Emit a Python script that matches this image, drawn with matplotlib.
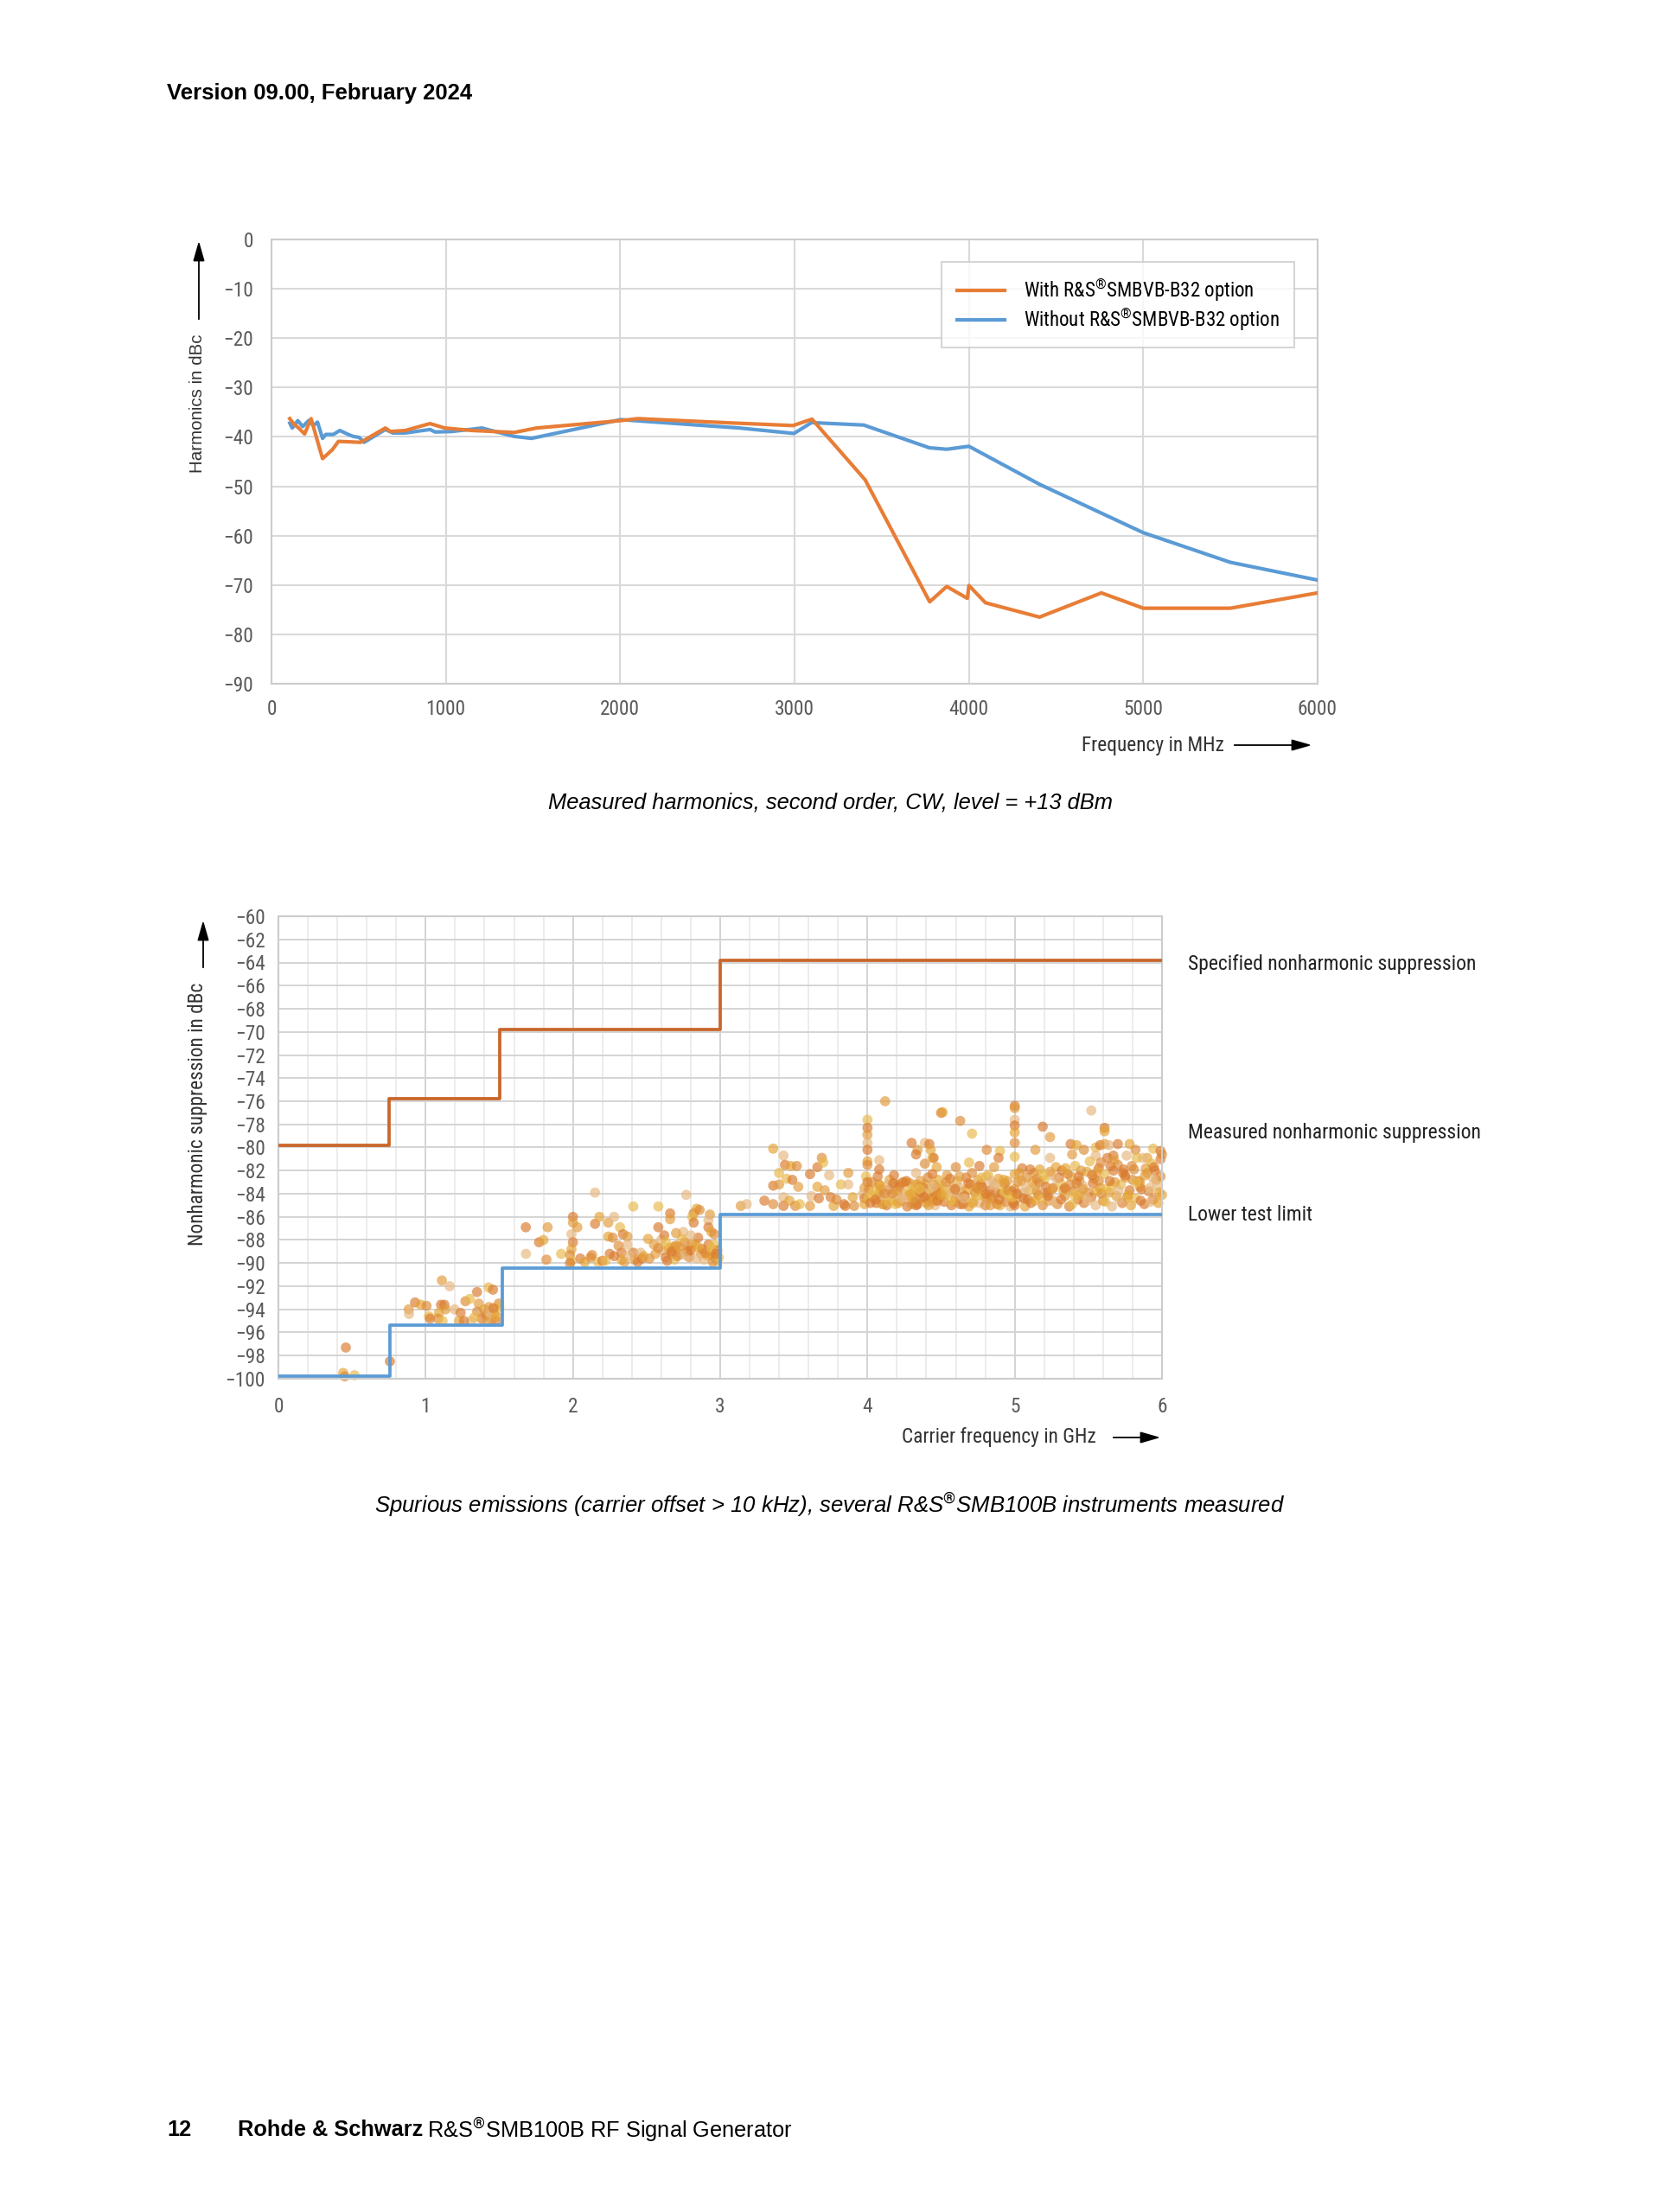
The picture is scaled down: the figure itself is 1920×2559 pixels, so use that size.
"""
Datasheet page: measured 2nd harmonics and nonharmonic (spurious) suppression.
"""
import matplotlib
matplotlib.use("Agg")
import matplotlib.pyplot as plt
from matplotlib import font_manager
from matplotlib.ticker import MultipleLocator

# ---- harmonics chart (top) ----
with_b32_mhz = [105, 128, 156, 190, 227, 270, 293, 349, 384, 511, 653, 682, 767,
                909, 994, 1150, 1392, 1520, 2003, 2102, 2656, 2991, 3100, 3405,
                3775, 3873, 3991, 4000, 4095, 4405, 4760, 5000, 5499, 6000]
with_b32_dbc = [-36.3, -37.4, -38.2, -39.4, -36.3, -41.6, -44.4, -42.6, -40.9,
                -41.1, -38.2, -38.9, -38.7, -37.3, -38.2, -38.7, -39.1, -38.2,
                -36.7, -36.3, -37.2, -37.7, -36.4, -48.7, -73.4, -70.3, -72.7,
                -70.1, -73.6, -76.5, -71.6, -74.7, -74.7, -71.6]

without_b32_mhz = [105, 119, 151, 179, 213, 241, 264, 293, 312, 355, 392, 440, 469,
                   503, 531, 653, 696, 767, 909, 938, 1037, 1207, 1392, 1491, 2003,
                   2685, 2997, 3097, 3397, 3773, 3873, 4000, 4405, 5000, 5499, 6000]
without_b32_dbc = [-37.2, -38.2, -36.7, -37.9, -36.7, -37.7, -37.0, -40.3, -39.5,
                   -39.5, -38.7, -39.5, -39.9, -40.1, -41.1, -38.5, -39.2, -39.2,
                   -38.5, -39.0, -38.9, -38.2, -39.9, -40.3, -36.5, -38.2, -39.3,
                   -37.1, -37.6, -42.2, -42.5, -41.9, -49.6, -59.4, -65.4, -69.0]

harm_legend = ["With R&S$^{®}$SMBVB-B32 option", "Without R&S$^{®}$SMBVB-B32 option"]

# ---- nonharmonic suppression chart (bottom) ----
spec_edges_ghz = [0, 0.75, 1.5, 3.0, 6.0]
spec_levels_dbc = [-79.8, -75.8, -69.8, -63.8]
test_edges_ghz = [0, 0.76, 1.52, 3.0, 6.0]
test_levels_dbc = [-99.8, -95.4, -90.4, -85.8]

# measured spurs
spur_ghz_b1 = [0.458, 0.44, 0.45, 0.517, 0.757]
spur_dbc_b1 = [-97.3, -99.5, -99.8, -99.7, -98.5]

spur_ghz_b2 = [0.885, 0.887, 0.928, 0.967, 1.006, 1.022, 1.03, 1.11, 1.163, 1.104,
               1.09, 1.085, 1.115, 1.127, 1.135, 1.196, 1.237, 1.227, 1.27, 1.30,
               1.349, 1.36, 1.31, 1.26, 1.398, 1.41, 1.427, 1.457, 1.43, 1.447,
               1.476, 1.467, 1.496, 1.50, 1.38, 1.42, 1.44, 1.46, 1.48, 1.35, 1.33]
spur_dbc_b2 = [-94.0, -94.4, -93.4, -93.6, -93.7, -94.6, -94.8, -91.5, -92.0, -93.6,
               -94.3, -94.8, -95.0, -93.6, -94.0, -94.0, -94.3, -95.0, -93.3, -93.1,
               -92.5, -93.5, -95.0, -95.0, -94.0, -94.5, -92.1, -92.3, -93.8, -94.9,
               -95.0, -94.4, -93.5, -93.8, -94.8, -95.0, -94.3, -93.9, -94.6, -94.2,
               -94.7]

spur_ghz_b3 = [1.68, 1.828, 1.681, 1.77, 1.80, 1.82, 1.92,
               2.0, 2.0, 1.99, 2.0, 1.99, 1.98, 1.99, 1.98,
               2.03, 2.15, 2.15, 2.18, 2.13, 2.17, 2.20, 2.24, 2.28, 2.25, 2.24, 2.27,
               2.32, 2.34, 2.37, 2.37, 2.33, 2.33, 2.31, 2.41, 2.41, 2.42, 2.46, 2.47,
               2.51, 2.52, 2.58, 2.58,
               2.55, 2.61, 2.63, 2.65, 2.67, 2.69, 2.70, 2.73, 2.75, 2.76, 2.77, 2.79,
               2.83, 2.85, 2.87, 2.89, 2.92, 2.93, 2.96, 2.98,
               2.66, 2.66, 2.77, 2.82, 2.84, 2.86, 2.81, 2.82, 2.93, 2.92, 2.92, 2.94,
               2.96, 2.96, 2.98,
               2.56, 2.60, 2.64, 2.68, 2.71, 2.74, 2.78, 2.81, 2.84, 2.88, 2.91, 2.95,
               2.99, 2.62, 2.70, 2.80,
               2.05, 2.08, 2.12, 2.22, 2.28, 2.35, 2.38, 2.44, 2.48,
               2.58, 2.63, 2.67, 2.72, 2.76, 2.80, 2.85, 2.90, 2.94, 2.97]
spur_dbc_b3 = [-86.9, -86.9, -89.2, -88.2, -88.0, -89.7, -89.2,
               -86.0, -86.5, -87.5, -88.2, -88.8, -89.3, -89.8, -90.0,
               -86.9, -83.9, -86.6, -86.0, -89.3, -89.9, -89.8, -86.5, -86.0, -89.2,
               -87.7, -87.8,
               -86.9, -87.5, -87.7, -88.4, -89.1, -89.7, -88.5, -85.1, -89.1, -89.7,
               -89.1, -89.6,
               -87.9, -89.6, -85.1, -86.9,
               -88.4, -88.9, -89.5, -88.7, -89.2, -89.7, -88.5, -89.2, -87.3, -88.2,
               -88.9, -89.5, -88.4, -87.8, -89.2, -89.7, -88.4, -89.2, -89.5, -89.8,
               -85.7, -86.2, -84.1, -85.7, -85.3, -85.4, -86.0, -86.5, -85.8, -86.3,
               -86.9, -87.3, -87.5, -88.4, -88.9,
               -89.2, -88.0, -89.8, -88.6, -89.4, -87.9, -89.0, -88.3, -89.6, -88.8,
               -89.3, -89.9, -89.5, -87.6, -87.4, -87.6,
               -89.6, -89.9, -89.5, -89.8, -89.4, -89.9, -89.3, -89.9, -89.4,
               -88.7, -88.2, -89.0, -88.6, -89.3, -88.9, -88.6, -89.1, -88.7, -89.2]

spur_ghz_b4 = [3.14, 3.18, 3.30, 3.36, 3.36, 3.40, 3.36, 3.40, 3.43, 3.44, 3.48,
               3.52, 3.45, 3.49, 3.53, 3.43, 3.43, 3.47, 3.51, 3.54, 3.61, 3.61,
               3.62, 3.66, 3.66, 3.69, 3.70, 3.67, 3.71, 3.74, 3.75, 3.77, 3.79,
               3.82, 3.84, 3.87, 3.87, 3.85, 3.90, 3.91,
               4.0, 4.0, 4.0, 4.0, 4.0, 4.0, 4.0, 3.99, 4.0, 3.98, 3.97, 3.98, 3.98,
               4.01, 4.01, 4.02]
spur_dbc_b4 = [-85.05, -84.9, -84.6, -80.1, -84.9, -82.2, -83.3, -83.2, -80.7, -81.5,
               -81.6, -81.6, -82.7, -82.8, -83.4, -84.3, -85.05, -84.6, -85.05, -84.9,
               -82.3, -85.05, -84.2, -81.7, -83.4, -80.9, -81.3, -84.4, -83.7, -82.4,
               -84.3, -85.05, -84.5, -83.2, -84.9, -82.2, -83.2, -85.05, -84.3, -85.05,
               -77.6, -78.3, -78.9, -79.6, -80.2, -81.2, -81.5, -82.5, -83.0, -83.5,
               -84.0, -84.4, -84.9, -83.6, -84.3, -84.8]

spur_ghz_b5 = [4.12, 4.08, 4.08, 4.08, 4.08, 4.11, 4.15, 4.16, 4.20, 4.21, 4.25,
               4.28, 4.30, 4.30, 4.34, 4.39, 4.42, 4.43, 4.39, 4.44, 4.33, 4.33,
               4.33, 4.35, 4.39, 4.41, 4.44, 4.47, 4.49, 4.33, 4.50, 4.51, 4.63,
               4.71, 5.00, 5.00, 5.00, 5.00, 5.00, 5.00, 5.00, 5.19, 5.24, 5.52,
               5.61, 5.61, 4.81, 4.90, 4.89, 5.14, 5.24, 4.45, 4.47, 4.60, 4.69,
               4.76, 4.86, 4.81,
               5.38, 5.42, 5.47, 5.55, 5.58, 5.61, 5.64, 5.70, 5.78, 5.82, 5.94,
               5.99, 5.39, 5.55, 5.67, 5.90]
spur_dbc_b5 = [-76.0, -81.1, -81.9, -83.2, -84.0, -84.9, -83.6, -84.6, -84.0, -83.2,
               -83.0, -84.2, -84.9, -79.6, -80.2, -79.6, -79.7, -80.2, -81.4, -80.9,
               -80.6, -83.2, -83.8, -84.5, -83.2, -84.0, -84.7, -83.5, -84.3, -82.2,
               -77.0, -76.95, -77.7, -78.8, -76.4, -76.6, -77.6, -78.1, -78.7, -79.6,
               -80.8, -78.2, -79.1, -76.8, -78.3, -78.6, -80.2, -80.3, -80.9, -80.2,
               -80.9, -80.9, -81.7, -81.7, -81.3, -81.6, -81.7, -82.5,
               -79.7, -79.8, -80.2, -80.0, -79.8, -79.7, -79.8, -79.7, -79.7, -80.2,
               -80.1, -80.3, -80.6, -80.7, -80.7, -80.9]

# dense band 4 GHz .. 6 GHz
spur_ghz_b6 = [4.03, 4.05, 4.06, 4.09, 4.12, 4.13, 4.15, 4.17, 4.19, 4.22, 4.23,
               4.26, 4.27, 4.29, 4.31, 4.32, 4.34, 4.36, 4.37, 4.38, 4.40, 4.41,
               4.42, 4.43, 4.45, 4.46, 4.47, 4.48, 4.49,
               4.51, 4.52, 4.54, 4.55, 4.57, 4.58, 4.60, 4.61, 4.63, 4.64, 4.66,
               4.67, 4.69, 4.70, 4.72, 4.73, 4.75, 4.76, 4.78, 4.79, 4.80, 4.82,
               4.83, 4.85, 4.86, 4.88, 4.89, 4.91, 4.92, 4.94, 4.95, 4.97, 4.98,
               5.00, 5.00, 5.01, 5.00,
               5.02, 5.04, 5.05, 5.07, 5.08, 5.10, 5.11, 5.13, 5.14, 5.16, 5.17,
               5.19, 5.20, 5.22, 5.23, 5.25, 5.26, 5.28, 5.29, 5.31, 5.32, 5.34,
               5.35, 5.37, 5.38, 5.40, 5.41, 5.43, 5.44, 5.46, 5.47, 5.49, 5.50,
               5.51, 5.52, 5.54, 5.55, 5.57, 5.58, 5.60, 5.61, 5.63, 5.64, 5.66,
               5.67, 5.69, 5.70, 5.72, 5.73, 5.75, 5.76, 5.78, 5.79, 5.81, 5.82,
               5.84, 5.85, 5.87, 5.88, 5.90, 5.91, 5.93, 5.94, 5.96, 5.97, 5.99,
               6.00, 5.99,
               4.04, 4.07, 4.10, 4.14, 4.18, 4.21, 4.24, 4.28, 4.33, 4.35, 4.39,
               4.44, 4.46, 4.48,
               4.53, 4.56, 4.59, 4.62, 4.65, 4.68, 4.71, 4.74, 4.77, 4.81, 4.84,
               4.87, 4.90, 4.93, 4.96, 4.99,
               5.03, 5.06, 5.09, 5.12, 5.15, 5.18, 5.21, 5.24, 5.27, 5.30, 5.33,
               5.36, 5.39, 5.42, 5.45, 5.48,
               5.53, 5.56, 5.59, 5.62, 5.65, 5.68, 5.71, 5.74, 5.77, 5.80, 5.83,
               5.86, 5.89, 5.92, 5.95, 5.98, 6.00,
               4.31, 4.36, 4.41, 4.57, 4.66, 4.75, 4.84, 4.93, 5.06, 5.15, 5.25,
               5.34, 5.44, 5.57, 5.66, 5.75, 5.85, 5.94,
               4.055, 4.085, 4.115, 4.145, 4.175, 4.205, 4.235, 4.265, 4.295, 4.325,
               4.355, 4.385, 4.415, 4.445, 4.475,
               4.505, 4.535, 4.565, 4.595, 4.625, 4.655, 4.685, 4.715, 4.745, 4.775,
               4.805, 4.835, 4.865, 4.895, 4.925, 4.955, 4.985,
               5.015, 5.045, 5.075, 5.105, 5.135, 5.165, 5.195, 5.225, 5.255, 5.285,
               5.315, 5.345, 5.375, 5.405, 5.435, 5.465, 5.495,
               5.525, 5.555, 5.585, 5.615, 5.645, 5.675, 5.705, 5.735, 5.765, 5.795,
               5.825, 5.855, 5.885, 5.915, 5.945, 5.975]
spur_dbc_b6 = [-83.0, -84.2, -84.8, -83.6, -84.4, -85.0, -82.8, -84.0, -84.9, -83.4,
               -84.6, -84.1, -85.1, -83.1, -84.5, -83.7, -84.9, -82.9, -84.2, -83.5,
               -84.8, -82.6, -83.9, -84.4, -83.2, -85.0, -84.1, -82.8, -83.6,
               -83.3, -84.7, -82.4, -84.0, -85.0, -83.5, -84.4, -82.9, -84.9, -83.8,
               -84.3, -82.6, -85.1, -83.2, -84.6, -83.9, -82.8, -84.8, -83.4, -84.2,
               -85.0, -82.4, -83.7, -84.5, -83.1, -84.9, -82.7, -84.0, -83.5, -84.7,
               -82.9, -85.1, -83.8, -82.3, -83.6, -84.5, -85.0,
               -83.0, -84.3, -81.8, -85.1, -82.6, -83.7, -84.8, -82.2, -83.3, -84.1,
               -81.9, -85.0, -82.8, -83.9, -84.6, -82.4, -83.5, -81.7, -84.9, -83.1,
               -82.0, -84.2, -83.6, -85.1, -82.5, -83.8, -81.6, -84.5, -82.9, -83.3,
               -84.8, -82.1, -83.9,
               -81.2, -84.3, -82.7, -85.0, -81.8, -83.5, -84.6, -82.3, -80.9, -83.9,
               -85.1, -82.0, -84.2, -81.5, -83.2, -84.8, -82.6, -80.7, -83.7, -85.0,
               -81.9, -84.4, -82.9, -83.4, -80.9, -84.9, -82.2, -83.8, -81.4, -84.5,
               -82.8, -83.3, -81.0, -84.1, -82.5,
               -83.8, -82.5, -84.9, -83.2, -82.4, -84.8, -83.0, -83.8, -85.0, -83.4,
               -84.0, -82.3, -84.6, -83.9,
               -83.9, -82.7, -84.7, -83.4, -84.9, -83.6, -82.2, -84.1, -83.2, -84.3,
               -82.9, -83.9, -85.0, -83.1, -84.2, -84.8,
               -82.2, -83.9, -84.5, -83.0, -82.7, -84.4, -83.4, -82.1, -84.7, -82.6,
               -83.7, -82.3, -84.9, -83.1, -82.0, -84.2,
               -83.1, -82.1, -84.0, -83.6, -81.6, -83.0, -84.5, -81.9, -84.1, -82.8,
               -80.9, -83.6, -81.8, -84.7, -82.0, -83.9, -80.6,
               -84.4, -83.9, -84.6, -83.7, -84.2, -83.6, -84.3, -83.9, -84.4, -83.8,
               -84.5, -83.5, -84.1, -82.9, -83.3, -82.4, -83.0, -82.7,
               -84.5, -83.3, -84.0, -84.7, -83.1, -83.8, -84.4, -82.9, -84.0, -84.7,
               -83.6, -84.3, -85.0, -83.4, -84.6,
               -84.1, -83.0, -84.6, -83.6, -82.5, -84.4, -83.1, -84.8, -83.5, -82.6,
               -84.0, -85.0, -83.3, -84.5, -82.8, -83.7, -84.3,
               -84.0, -82.9, -83.5, -81.9, -84.6, -83.0, -82.4, -84.2, -83.6, -82.7,
               -84.5, -81.8, -83.2, -84.1, -82.5, -83.6, -84.6,
               -82.4, -83.8, -81.3, -84.7, -82.9, -81.1, -83.7, -82.2, -84.3, -81.6,
               -83.0, -84.6, -82.4, -83.5, -81.7, -84.8]

side_labels = ["Specified nonharmonic suppression",
               "Measured nonharmonic suppression",
               "Lower test limit"]


def first_font(names):
    # pick the first family that is really installed
    for name in names:
        try:
            font_manager.findfont(font_manager.FontProperties(family=name),
                                  fallback_to_default=False)
            return name
        except ValueError:
            continue
    return "DejaVu Sans"


# ---- look ----
W, H = 1920, 2559
NARROW_NAME = first_font(["Liberation Sans Narrow", "Roboto Condensed",
                          "DejaVu Sans Condensed", "Open Sans Condensed",
                          "Noto Sans Condensed", "Roboto"])
IS_CONDENSED = NARROW_NAME != "Roboto"
NARROW = [NARROW_NAME, "DejaVu Sans"]
ARIAL = ["Liberation Sans", "DejaVu Sans"]
ORANGE = "#E87D36"
BLUE = "#5B9BD5"
SPEC_ORANGE = "#C9662B"
GRID = "#d9d9d9"
TICK_GREY = "#5a5a5a"
DOT_COLORS = ["#DA7A2C", "#E5A233", "#DD8A35", "#E9B848", "#D9782B", "#E29A3A",
              "#E6B77E"]

# condensed faces run narrower, so they can keep the measured height
SZ = 1.0 if IS_CONDENSED else 0.88

plt.rcParams["mathtext.fontset"] = "custom"
plt.rcParams["mathtext.rm"] = NARROW_NAME
plt.rcParams["mathtext.it"] = "Liberation Sans:italic"
plt.rcParams["mathtext.bf"] = "Liberation Sans:bold"


def fx(px):
    return px / W


def fy(py):
    return 1 - py / H


def arrow(fig, x0, y0, x1, y1):
    fig.add_artist(matplotlib.patches.FancyArrowPatch(
        (fx(x0), fy(y0)), (fx(x1), fy(y1)), transform=fig.transFigure,
        arrowstyle="-|>,head_length=0.7,head_width=0.2", mutation_scale=20,
        lw=1.3, color="black"))


def style_axes(ax):
    for sp in ax.spines.values():
        sp.set_color("#cccccc")
        sp.set_linewidth(1.5)
    ax.tick_params(length=0, colors=TICK_GREY)
    for lab in ax.get_xticklabels() + ax.get_yticklabels():
        lab.set_fontfamily(NARROW)
        lab.set_fontsize(16.8 * SZ)


fig = plt.figure(figsize=(W / 100, H / 100), dpi=100)

# ---------- top chart ----------
ax1 = fig.add_axes([fx(314), fy(791), fx(1524) - fx(314), fy(277) - fy(791)])
ax1.plot(without_b32_mhz, without_b32_dbc, color=BLUE, lw=3.0, label=harm_legend[1],
         zorder=3)
ax1.plot(with_b32_mhz, with_b32_dbc, color=ORANGE, lw=3.0, label=harm_legend[0],
         zorder=4)
ax1.set_xlim(0, 6000)
ax1.set_ylim(-90, 0)
ax1.xaxis.set_major_locator(MultipleLocator(1000))
ax1.yaxis.set_major_locator(MultipleLocator(10))
ax1.grid(True, color=GRID, lw=1.5)
ax1.set_axisbelow(True)
ax1.tick_params(axis="x", pad=13)
ax1.tick_params(axis="y", pad=15)
style_axes(ax1)
handles, labels = ax1.get_legend_handles_labels()
leg = ax1.legend(handles[::-1], labels[::-1], loc="upper right",
                 bbox_to_anchor=(0.978, 0.949), borderaxespad=0,
                 prop={"family": NARROW, "size": 16.5 * SZ}, fancybox=False,
                 handlelength=2.4, borderpad=0.75, labelspacing=0.12,
                 handletextpad=1.0)
leg.get_frame().set_edgecolor("#cccccc")
leg.get_frame().set_linewidth(1.5)

fig.text(fx(228), fy(467), "Harmonics in dBc", rotation=90, ha="center",
         va="center", family=ARIAL, fontsize=14.8, color="#333333")
arrow(fig, 230, 372, 230, 276)
fig.text(fx(1416), fy(862), "Frequency in MHz", ha="right", va="center",
         family=NARROW, fontsize=16.8 * SZ, color="#333333")
arrow(fig, 1425, 862, 1520, 862)

fig.text(fx(960), fy(929), "Measured harmonics, second order, CW, level = +13 dBm",
         ha="center", va="center", family=ARIAL, style="italic", fontsize=18.4)

# ---------- bottom chart ----------
ax2 = fig.add_axes([fx(322), fy(1595), fx(1344) - fx(322), fy(1060) - fy(1595)])
spur_x = spur_ghz_b1 + spur_ghz_b2 + spur_ghz_b3 + spur_ghz_b4 + spur_ghz_b5 + spur_ghz_b6
spur_y = spur_dbc_b1 + spur_dbc_b2 + spur_dbc_b3 + spur_dbc_b4 + spur_dbc_b5 + spur_dbc_b6
dot_cols = [DOT_COLORS[i % len(DOT_COLORS)] for i in range(len(spur_x))]
ax2.scatter(spur_x, spur_y, s=72, c=dot_cols, alpha=0.66, edgecolors="none",
            zorder=2, clip_on=False)
ax2.step(spec_edges_ghz, spec_levels_dbc + spec_levels_dbc[-1:], where="post",
         color=SPEC_ORANGE, lw=2.7, zorder=3)
ax2.step(test_edges_ghz, test_levels_dbc + test_levels_dbc[-1:], where="post",
         color=BLUE, lw=2.7, zorder=3)
ax2.set_xlim(0, 6)
ax2.set_ylim(-100, -60)
ax2.xaxis.set_major_locator(MultipleLocator(1))
ax2.xaxis.set_minor_locator(MultipleLocator(0.2))
ax2.yaxis.set_major_locator(MultipleLocator(2))
ax2.grid(True, which="major", color="#d4d4d4", lw=1.4)
ax2.grid(True, which="minor", axis="x", color="#e9e9e9", lw=1.2)
ax2.set_axisbelow(True)
ax2.tick_params(axis="x", pad=15)
ax2.tick_params(axis="y", pad=11)
ax2.tick_params(which="minor", length=0)
style_axes(ax2)

fig.text(fx(229), fy(1289), "Nonharmonic suppression in dBc", rotation=90,
         ha="center", va="center", family=NARROW, fontsize=16.8 * SZ,
         color="#333333")
arrow(fig, 235, 1122, 235, 1062)
fig.text(fx(1268), fy(1663), "Carrier frequency in GHz", ha="right", va="center",
         family=NARROW, fontsize=16.8 * SZ, color="#333333")
arrow(fig, 1285, 1663, 1345, 1663)

for lab, ypx in zip(side_labels, [1115, 1311, 1405]):
    fig.text(fx(1374), fy(ypx), lab, ha="left", va="center", family=NARROW,
             fontsize=17 * SZ, color="#222222")

fig.text(fx(960), fy(1741),
         "Spurious emissions (carrier offset > 10 kHz), several R&S$^{®}$SMB100B "
         "instruments measured",
         ha="center", va="center", family=ARIAL, style="italic", fontsize=18.5)

# ---------- page furniture ----------
fig.text(fx(193), fy(108), "Version 09.00, February 2024", ha="left", va="center",
         family=ARIAL, weight="bold", fontsize=18.5)
fig.text(fx(193), fy(2464), "12", ha="left", va="center", family=ARIAL,
         weight="bold", fontsize=18.3)
fig.text(fx(275), fy(2464), "Rohde & Schwarz", ha="left", va="center",
         family=ARIAL, weight="bold", fontsize=18.3)
fig.text(fx(494), fy(2464), "R&S$^{®}$SMB100B RF Signal Generator", ha="left",
         va="center", family=ARIAL, fontsize=18.3)

fig.savefig("out.png", dpi=100)
